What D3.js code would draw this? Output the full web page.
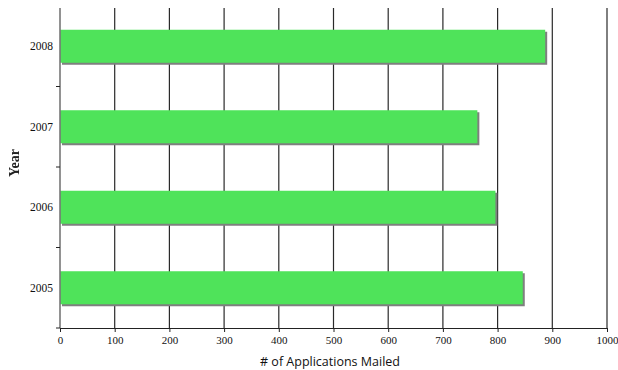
<!DOCTYPE html>
<html>
<head>
<meta charset="utf-8">
<script src="https://cdn.jsdelivr.net/npm/d3@7"></script>
<style>
  html, body { margin: 0; padding: 0; background: #fff; }
  svg { display: block; }
</style>
</head>
<body>
<svg id="chart" width="618" height="370"></svg>
<script>
// Applications mailed per year
const years = ["2005", "2006", "2007", "2008"];
const mailed = [846, 796, 763, 887];
const xTicks = [0, 100, 200, 300, 400, 500, 600, 700, 800, 900, 1000];

const svg = d3.select("#chart");
const margin = { left: 60, right: 11, top: 6, bottom: 42 };
const W = 618, H = 370;
const plotW = W - margin.left - margin.right;
const plotH = H - margin.top - margin.bottom;

const x = d3.scaleLinear().domain([0, 1000]).range([margin.left, margin.left + plotW]);
const y = d3.scaleBand().domain(years.slice().reverse())
  .range([margin.top, margin.top + plotH]).paddingInner(0.59).paddingOuter(0.295);

// vertical gridlines
svg.append("g").selectAll("line").data(xTicks.slice(1)).join("line")
  .attr("x1", d => x(d)).attr("x2", d => x(d))
  .attr("y1", margin.top + 2).attr("y2", margin.top + plotH)
  .attr("stroke", "#2a2a2a").attr("stroke-width", 1.2);

const rows = years.map((yr, i) => ({ year: yr, value: mailed[i] }));

// bar shadows
svg.append("g").selectAll("rect").data(rows).join("rect")
  .attr("x", x(0) + 2).attr("y", d => y(d.year) + 2)
  .attr("width", d => x(d.value) - x(0))
  .attr("height", y.bandwidth())
  .attr("fill", "#7f7f7f");

// bars
svg.append("g").selectAll("rect").data(rows).join("rect")
  .attr("x", x(0)).attr("y", d => y(d.year))
  .attr("width", d => x(d.value) - x(0))
  .attr("height", y.bandwidth())
  .attr("fill", "#4fe35a");

// x axis
const xAxis = svg.append("g")
  .attr("transform", `translate(0,${margin.top + plotH})`)
  .call(d3.axisBottom(x).tickValues(xTicks).tickFormat(d3.format("d"))
    .tickSize(4).tickSizeOuter(0).tickPadding(4));
xAxis.select(".domain").attr("stroke", "#222").attr("stroke-width", 1.2);
xAxis.selectAll(".tick line").attr("stroke", "#222");
xAxis.selectAll("text")
  .attr("font-family", "'Liberation Serif', serif").attr("font-size", 11).attr("fill", "#111");

// y axis: line with ticks between categories
const yAxisG = svg.append("g");
yAxisG.append("line")
  .attr("x1", x(0)).attr("x2", x(0))
  .attr("y1", margin.top + 2).attr("y2", margin.top + plotH)
  .attr("stroke", "#777").attr("stroke-width", 1.6);
const between = d3.range(1, years.length + 1).map(i => margin.top + i * plotH / years.length);
yAxisG.selectAll("line.tk").data(between).join("line").attr("class", "tk")
  .attr("x1", x(0) - 4).attr("x2", x(0))
  .attr("y1", d => d).attr("y2", d => d)
  .attr("stroke", "#222");
yAxisG.selectAll("text").data(years).join("text")
  .attr("x", x(0) - 7)
  .attr("y", d => y(d) + y.bandwidth() / 2)
  .attr("dy", "0.35em")
  .attr("text-anchor", "end")
  .attr("font-family", "'Liberation Serif', serif").attr("font-size", 11.5).attr("fill", "#111")
  .text(d => d);

// axis titles
svg.append("text")
  .attr("x", 330).attr("y", 366)
  .attr("text-anchor", "middle")
  .attr("font-family", "'Open Sans', sans-serif").attr("font-size", 12.5).attr("fill", "#111")
  .text("# of Applications Mailed");

const defs = svg.append("defs");
defs.append("filter").attr("id", "soft")
  .append("feGaussianBlur").attr("stdDeviation", 0.6);

svg.append("text")
  .attr("transform", "translate(19,163) rotate(-90)")
  .attr("text-anchor", "middle")
  .attr("font-family", "'Liberation Serif', serif").attr("font-weight", "bold")
  .attr("font-size", 14).attr("fill", "#222")
  .attr("filter", "url(#soft)")
  .text("Year");
</script>
</body>
</html>
